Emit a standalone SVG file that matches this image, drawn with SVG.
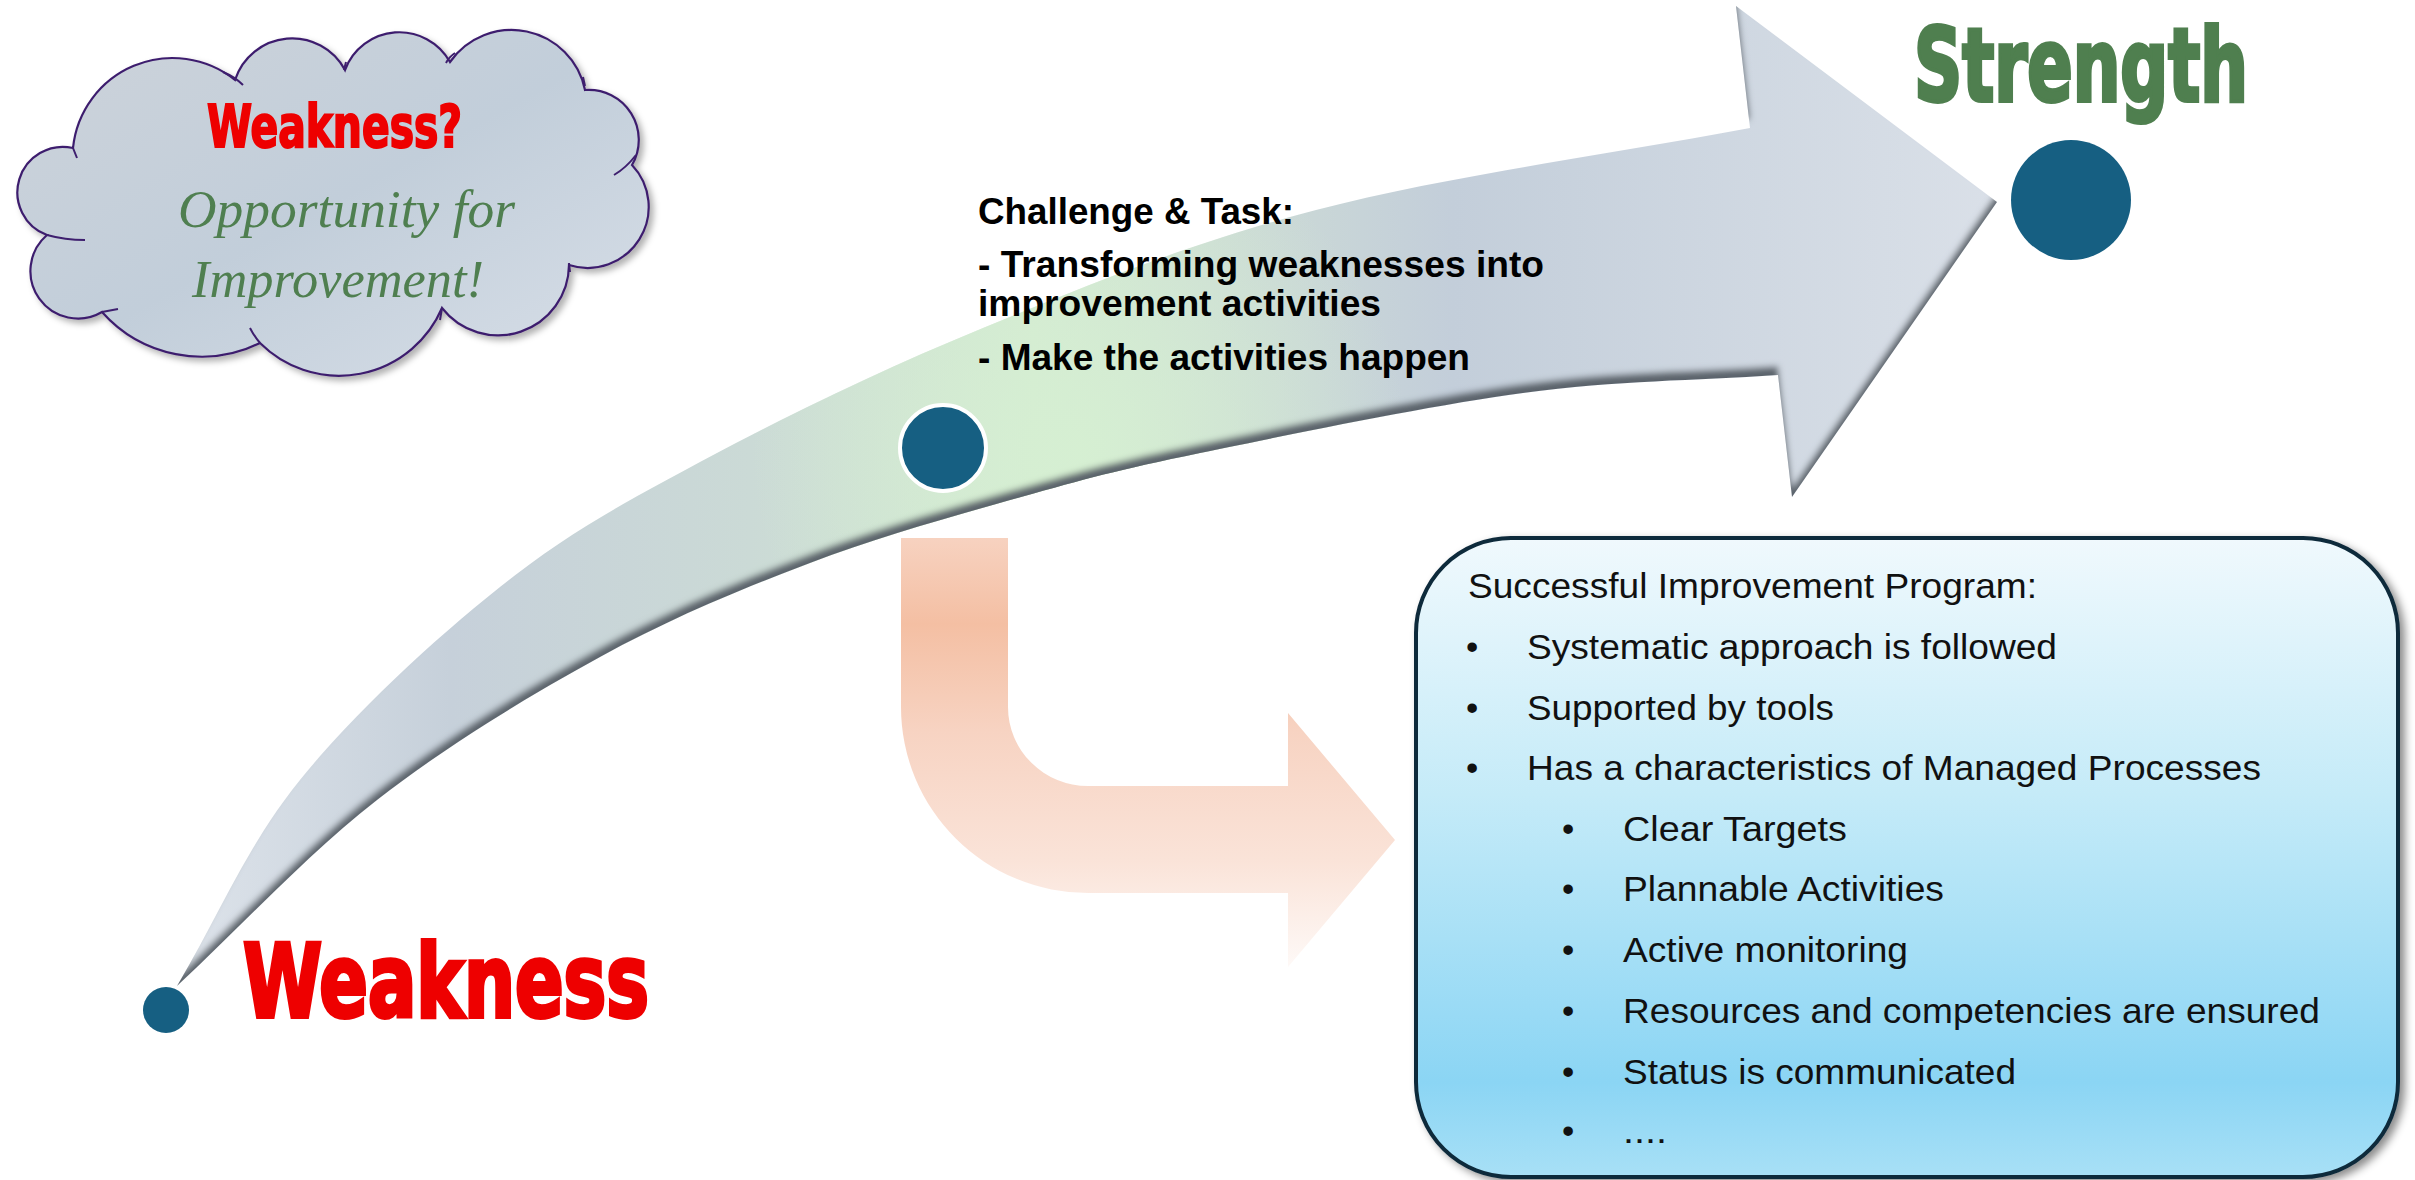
<svg xmlns="http://www.w3.org/2000/svg" width="2415" height="1180" viewBox="0 0 2415 1180">
<defs>
<style>
.impact{font-family:Impact,"Liberation Sans Narrow","DejaVu Sans Condensed","DejaVu Sans",sans-serif;font-weight:bold;}
.ital{font-family:"Liberation Serif","DejaVu Serif",serif;font-style:italic;fill:#4F7F50;}
.bold{font-family:"Liberation Sans",Arial,sans-serif;font-weight:bold;font-size:36px;fill:#000;}
.body{font-family:"Liberation Sans",Arial,sans-serif;font-size:35px;fill:#111;}
.dot{fill:#165F82;}
</style>
<linearGradient id="cloudFill" x1="0" y1="0" x2="1" y2="1">
<stop offset="0" stop-color="#CDD3DA"/>
<stop offset="0.5" stop-color="#C2CEDA"/>
<stop offset="1" stop-color="#D8DFE8"/>
</linearGradient>
<linearGradient id="arrowFill" gradientUnits="userSpaceOnUse" x1="177" y1="0" x2="2000" y2="0">
<stop offset="0" stop-color="#DDE3EA"/>
<stop offset="0.15" stop-color="#C6D0DA"/>
<stop offset="0.314" stop-color="#CBDAD6"/>
<stop offset="0.47" stop-color="#D3E9D2"/>
<stop offset="0.6" stop-color="#CBD9D6"/>
<stop offset="0.7" stop-color="#C3CEDA"/>
<stop offset="1" stop-color="#DAE0E8"/>
</linearGradient>
<radialGradient id="greenGlow" gradientUnits="userSpaceOnUse" cx="1080" cy="450" r="330">
<stop offset="0" stop-color="#D6F0D2" stop-opacity="0.9"/>
<stop offset="1" stop-color="#D6F0D2" stop-opacity="0"/>
</radialGradient>
<linearGradient id="orangeFill" gradientUnits="userSpaceOnUse" x1="0" y1="538" x2="0" y2="967">
<stop offset="0" stop-color="#F7D2C0"/>
<stop offset="0.2" stop-color="#F4BFA3"/>
<stop offset="0.45" stop-color="#F7D3C2"/>
<stop offset="0.75" stop-color="#FAE3D8"/>
<stop offset="1" stop-color="#FEF9F7"/>
</linearGradient>
<linearGradient id="boxFill" gradientUnits="userSpaceOnUse" x1="0" y1="538" x2="0" y2="1178">
<stop offset="0" stop-color="#F0F9FD"/>
<stop offset="0.4" stop-color="#C5EBF8"/>
<stop offset="0.85" stop-color="#8BD5F4"/>
<stop offset="1" stop-color="#A8E0F6"/>
</linearGradient>
<filter id="bevel" x="-5%" y="-5%" width="110%" height="110%">
<feOffset in="SourceAlpha" dx="0" dy="-9" result="off"/>
<feGaussianBlur in="off" stdDeviation="3" result="offb"/>
<feComposite in="SourceAlpha" in2="offb" operator="out" result="edge"/>
<feFlood flood-color="#5C646C"/>
<feComposite in2="edge" operator="in" result="shadow"/>
<feMerge><feMergeNode in="SourceGraphic"/><feMergeNode in="shadow"/></feMerge>
</filter>
<filter id="shadow" x="-5%" y="-5%" width="115%" height="115%">
<feDropShadow dx="5" dy="4" stdDeviation="4" flood-color="#000" flood-opacity="0.45"/>
</filter>
<filter id="cshadow" x="-5%" y="-5%" width="115%" height="115%">
<feDropShadow dx="4" dy="4" stdDeviation="3" flood-color="#000" flood-opacity="0.3"/>
</filter>
<path id="bigArrow" d="M177,986 C218,917.3 246.2,846.5 300,780 C353.8,713.5 433.3,640 500,587 C566.7,534 619.5,505.2 700,462 C780.5,418.8 880.3,370 983,328 C1085.7,286 1188.2,243.3 1316,210 C1443.8,176.3 1605.3,155.3 1750,128 L1736,6 L1997,202 L1792,497 L1778,375 C1693,381 1619.3,380 1523,393 C1426.7,406 1283.7,435.7 1200,453 C1116.3,470.3 1086,478.7 1021,497 C956,515.3 880.2,536.3 810,563 C739.8,589.7 672.2,617.5 600,657 C527.8,696.5 447.5,745.2 377,800 C306.5,854.8 243.7,924 177,986 Z"/>
</defs>
<rect width="2415" height="1180" fill="#FFFFFF"/>

<g id="connectors">
<g id="main-arrow" filter="url(#bevel)">
<use href="#bigArrow" fill="url(#arrowFill)"/>
<use href="#bigArrow" fill="url(#greenGlow)"/>
</g>
<path id="orange-arrow" d="M901,538 L1008,538 L1008,707 A80,79 0 0 0 1088,786 L1288,786 L1288,713 L1395,840 L1288,967 L1288,893 L1088,893 A187,186 0 0 1 901,707 Z" fill="url(#orangeFill)"/>
</g>

<g id="cloud">
<path filter="url(#cshadow)" d="M73,148 A100,100 0 0 1 235,80 A60,60 0 0 1 345,70 A58,58 0 0 1 450,62 A75,75 0 0 1 585,90 A50,50 0 0 1 632,165 A61,61 0 0 1 569,265 A71,71 0 0 1 442,308 A112,112 0 0 1 260,343 A133,133 0 0 1 102,312 A47.5,47.5 0 0 1 47,235 A45.5,45.5 0 0 1 73,148 Z" fill="url(#cloudFill)" stroke="#3E1F6E" stroke-width="2.2"/>
<path d="M223,72 Q235,77 243,85 M346,62 L344,70 M455,53 Q449,57 446,63 M583,77 L585,86 M636,155 Q626,168 614,175 M569,263 L570,272 M442,308 L440,320 M260,343 Q254,336 250,328 M102,312 L118,309 M47,235 Q65,240 85,240 M73,148 L77,158" fill="none" stroke="#3E1F6E" stroke-width="2"/>
<text class="impact" x="207" y="147" font-size="58" fill="#EE0000" stroke="#EE0000" stroke-width="2" textLength="255" lengthAdjust="spacingAndGlyphs">Weakness?</text>
<text class="ital" x="178" y="227" font-size="53" textLength="337" lengthAdjust="spacingAndGlyphs">Opportunity for</text>
<text class="ital" x="192" y="297" font-size="53" textLength="292" lengthAdjust="spacingAndGlyphs">Improvement!</text>
</g>

<g id="node-weakness">
<circle class="dot" cx="166" cy="1010" r="23"/>
<text class="impact" x="243" y="1017" font-size="102" fill="#EE0000" stroke="#EE0000" stroke-width="4" textLength="406" lengthAdjust="spacingAndGlyphs">Weakness</text>
</g>

<g id="node-challenge">
<circle class="dot" cx="943" cy="448" r="43" stroke="#FFFFFF" stroke-width="4"/>
<text class="bold" x="978" y="224" textLength="316" lengthAdjust="spacingAndGlyphs">Challenge &amp; Task:</text>
<text class="bold" x="978" y="277" textLength="566" lengthAdjust="spacingAndGlyphs">- Transforming weaknesses into</text>
<text class="bold" x="978" y="316" textLength="403" lengthAdjust="spacingAndGlyphs">improvement activities</text>
<text class="bold" x="978" y="370" textLength="492" lengthAdjust="spacingAndGlyphs">- Make the activities happen</text>
</g>

<g id="node-strength">
<circle class="dot" cx="2071" cy="200" r="60"/>
<text class="impact" x="1914" y="101" font-size="102" fill="#4F7F4F" stroke="#4F7F4F" stroke-width="4" textLength="334" lengthAdjust="spacingAndGlyphs">Strength</text>
</g>

<g id="program-box">
<rect x="1416" y="538" width="982" height="639" rx="95" ry="95" fill="url(#boxFill)" stroke="#0E2A3B" stroke-width="4" filter="url(#shadow)"/>
<text class="body" x="1468" y="598" textLength="569" lengthAdjust="spacingAndGlyphs">Successful Improvement Program:</text>
<text class="body" x="1466" y="659">•</text>
<text class="body" x="1527" y="659" textLength="530" lengthAdjust="spacingAndGlyphs">Systematic approach is followed</text>
<text class="body" x="1466" y="720">•</text>
<text class="body" x="1527" y="720" textLength="307" lengthAdjust="spacingAndGlyphs">Supported by tools</text>
<text class="body" x="1466" y="780">•</text>
<text class="body" x="1527" y="780" textLength="734" lengthAdjust="spacingAndGlyphs">Has a characteristics of Managed Processes</text>
<text class="body" x="1562" y="841">•</text>
<text class="body" x="1623" y="841" textLength="224" lengthAdjust="spacingAndGlyphs">Clear Targets</text>
<text class="body" x="1562" y="901">•</text>
<text class="body" x="1623" y="901" textLength="321" lengthAdjust="spacingAndGlyphs">Plannable Activities</text>
<text class="body" x="1562" y="962">•</text>
<text class="body" x="1623" y="962" textLength="285" lengthAdjust="spacingAndGlyphs">Active monitoring</text>
<text class="body" x="1562" y="1023">•</text>
<text class="body" x="1623" y="1023" textLength="697" lengthAdjust="spacingAndGlyphs">Resources and competencies are ensured</text>
<text class="body" x="1562" y="1084">•</text>
<text class="body" x="1623" y="1084" textLength="393" lengthAdjust="spacingAndGlyphs">Status is communicated</text>
<text class="body" x="1562" y="1143">•</text>
<text class="body" x="1623" y="1143" textLength="44" lengthAdjust="spacingAndGlyphs">....</text>
</g>
</svg>
